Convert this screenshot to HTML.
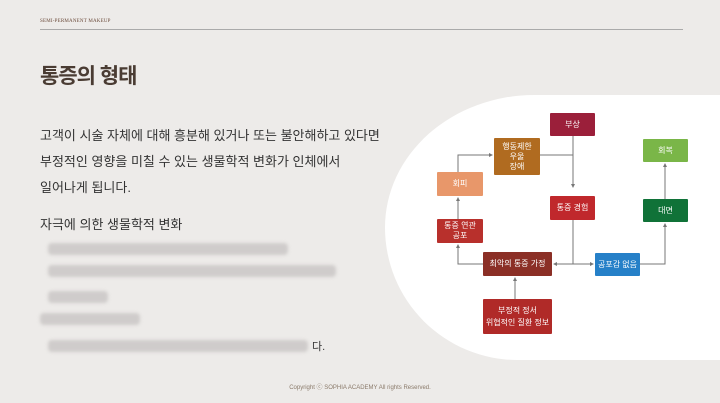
<!DOCTYPE html><html><head><meta charset="utf-8"><style>
body{margin:0;width:720px;height:403px;background:#edebe9;position:relative;overflow:hidden;font-family:"Liberation Sans","Noto Sans CJK KR",sans-serif}
.a{position:absolute}
.b{position:absolute;color:#fff;font-size:8px;display:flex;align-items:center;justify-content:center;text-align:center;line-height:10px;border-radius:1px}
.blur{position:absolute;height:12px;background:#cfcccb;border-radius:4px;filter:blur(1.5px)}
</style></head><body>
<div class="a" style="left:40px;top:19px;font-family:'Liberation Serif',serif;font-size:5px;color:#6b4a3a;letter-spacing:.2px">SEMI-PERMANENT MAKEUP</div>
<div class="a" style="left:40px;top:29px;width:643px;height:1px;background:#aaa"></div>
<div class="a" style="left:40px;top:60px;font-size:21px;font-weight:bold;color:#4a3c33;letter-spacing:-1px">통증의 형태</div>
<div class="a" style="left:40px;top:123px;font-size:13px;color:#333;line-height:26px">고객이 시술 자체에 대해 흥분해 있거나 또는 불안해하고 있다면<br>부정적인 영향을 미칠 수 있는 생물학적 변화가 인체에서<br>일어나게 됩니다.</div>
<div class="a" style="left:40px;top:214px;font-size:13px;color:#333">자극에 의한 생물학적 변화</div>
<div class="blur" style="left:48px;top:243px;width:240px"></div>
<div class="blur" style="left:48px;top:265px;width:288px"></div>
<div class="blur" style="left:48px;top:291px;width:60px"></div>
<div class="blur" style="left:40px;top:313px;width:100px"></div>
<div class="blur" style="left:48px;top:340px;width:260px"></div>
<div class="a" style="left:312px;top:338px;font-size:11px;color:#333">다.</div>
<div class="a" style="left:385px;top:95px;width:400px;height:265px;background:#fff;border-radius:150px 0 0 133px/133px 0 0 133px"></div>
<svg class="a" style="left:0;top:0" width="720" height="403">
<defs><marker id="m" markerWidth="4" markerHeight="4" refX="3" refY="2" orient="auto"><path d="M0,0L4,2L0,4z" fill="#777"/></marker></defs>
<g stroke="#777" stroke-width="1" fill="none">
<path d="M573,136V187" marker-end="url(#m)"/><path d="M573,155H540"/>
<path d="M458,172V155H492" marker-end="url(#m)"/>
<path d="M573,220V264"/><path d="M573,264H554" marker-end="url(#m)"/><path d="M573,264H593" marker-end="url(#m)"/>
<path d="M483,264H458V245" marker-end="url(#m)"/>
<path d="M458,219V198" marker-end="url(#m)"/>
<path d="M515,299V278" marker-end="url(#m)"/>
<path d="M640,264H665V224" marker-end="url(#m)"/>
<path d="M665,199V164" marker-end="url(#m)"/>
</g></svg>
<div class="b" style="left:550px;top:113px;width:45px;height:23px;background:#9b1f3a">부상</div>
<div class="b" style="left:494px;top:138px;width:46px;height:37px;background:#b06b20">행동제한<br>우울<br>장애</div>
<div class="b" style="left:437px;top:172px;width:46px;height:24px;background:#e8976a">회피</div>
<div class="b" style="left:550px;top:196px;width:45px;height:24px;background:#c0282c">통증 경험</div>
<div class="b" style="left:643px;top:139px;width:45px;height:23px;background:#7ab648">회복</div>
<div class="b" style="left:643px;top:199px;width:45px;height:23px;background:#107238">대면</div>
<div class="b" style="left:437px;top:219px;width:46px;height:24px;background:#b8302c">통증 연관<br>공포</div>
<div class="b" style="left:483px;top:252px;width:69px;height:24px;background:#8b2f26">최악의 통증 가정</div>
<div class="b" style="left:595px;top:253px;width:45px;height:23px;background:#2680c8">공포감 없음</div>
<div class="b" style="left:483px;top:299px;width:69px;height:35px;background:#b02a28;line-height:12px">부정적 정서<br>위협적인 질환 정보</div>
<div class="a" style="left:0;width:720px;top:382px;text-align:center;font-size:6px;color:#8a7a6a">Copyright ⓒ SOPHIA ACADEMY All rights Reserved.</div>
</body></html>
